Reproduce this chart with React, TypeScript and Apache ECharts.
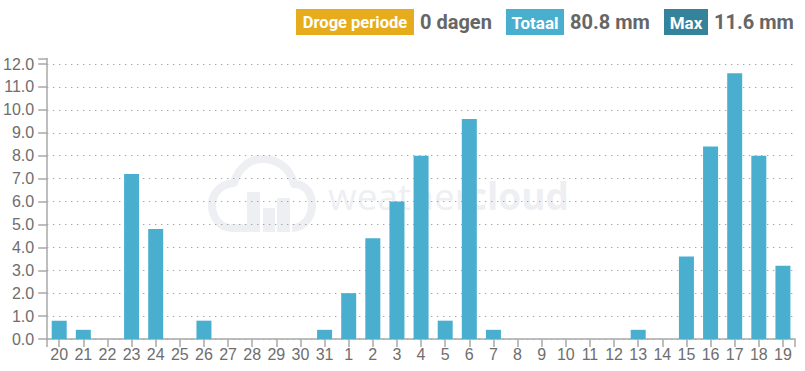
import React, { useEffect, useRef } from "react";
import * as echarts from "echarts";

const categories = ["20","21","22","23","24","25","26","27","28","29","30","31","1","2","3","4","5","6","7","8","9","10","11","12","13","14","15","16","17","18","19"];
const rain = [0.8,0.4,0,7.2,4.8,0,0.8,0,0,0,0,0.4,2.0,4.4,6.0,8.0,0.8,9.6,0.4,0,0,0,0,0,0.4,0,3.6,8.4,11.6,8.0,3.2];
const badges = [
  { label: "Droge periode", value: "0 dagen", x: 296, w: 118, size: 16.5, color: "#E6AC1E" },
  { label: "Totaal", value: "80.8 mm", x: 506, w: 58, size: 17, color: "#4AAFCF" },
  { label: "Max", value: "11.6 mm", x: 664, w: 44, size: 17, color: "#35839B" },
];
const cloudPath = "M247 228 L232 228 C218 228 212 215 212 205 C212 192 222 184 234 183 C238 168 250 159 262 159 C278 159 290 168 294 184 C306 184 312 194 312 205 C312 217 304 228 292 228";

export default function App() {
  const ref = useRef<HTMLDivElement>(null);
  useEffect(() => {
    document.body.style.margin = "0";
    echarts.graphic.registerShape("wcCloud", echarts.graphic.extendPath(cloudPath as any, {}) as any);
    const chart = echarts.init(ref.current!, undefined, { renderer: "svg" });
    const wm = "#EEEFF3";
    const axisColor = "#A8A8A8";
    const labelColor = "#6E6E6E";
    const badgeEls: any[] = [];
    badges.forEach((b) => {
      badgeEls.push({ type: "rect", silent: true, shape: { x: b.x, y: 9, width: b.w, height: 26 }, style: { fill: b.color } });
      badgeEls.push({ type: "text", silent: true, x: b.x + b.w / 2, y: 22.5, style: { text: b.label, fill: "#fff", font: `700 ${b.size}px Roboto`, align: "center", verticalAlign: "middle" } });
      badgeEls.push({ type: "text", silent: true, x: b.x + b.w + 6, y: 22, style: { text: b.value, fill: "#666", font: "700 20px Roboto", align: "left", verticalAlign: "middle" } });
    });
    const wmEls: any[] = [
      { type: "wcCloud", z: -1, silent: true, style: { stroke: wm, fill: "none", lineWidth: 8, lineJoin: "round" } },
      { type: "rect", z: -1, silent: true, shape: { x: 247, y: 192, width: 13, height: 40 }, style: { fill: wm } },
      { type: "rect", z: -1, silent: true, shape: { x: 263, y: 208, width: 12, height: 24 }, style: { fill: wm } },
      { type: "rect", z: -1, silent: true, shape: { x: 277, y: 198, width: 13, height: 34 }, style: { fill: wm } },
      { type: "text", z: -1, silent: true, x: 328, y: 195, style: { text: "weather", fill: wm, font: "400 37px 'Open Sans'", verticalAlign: "middle" } },
      { type: "text", z: -1, silent: true, x: 468, y: 195, style: { text: "cloud", fill: wm, font: "700 37px 'Open Sans'", verticalAlign: "middle" } },
    ];
    const endTicks = [47, 795].map((x) => ({ type: "line", silent: true, shape: { x1: x, y1: 339, x2: x, y2: 347 }, style: { stroke: axisColor, lineWidth: 1.5 } }));
    chart.setOption({
      animation: false,
      grid: { left: 47, right: 10, top: 58.5, bottom: 32 },
      xAxis: {
        type: "category", data: categories, boundaryGap: true,
        axisLine: { lineStyle: { color: axisColor, width: 1.5 } },
        axisTick: { show: true, alignWithLabel: true, lineStyle: { color: axisColor, width: 1.5 }, length: 8 },
        axisLabel: { color: labelColor, fontSize: 16, fontFamily: "Arial, Liberation Sans", interval: 0, margin: 7 },
        splitLine: { show: false },
      },
      yAxis: {
        type: "value", min: 0, max: 12.24, interval: 1,
        axisLine: { show: true, lineStyle: { color: axisColor, width: 1.5 } },
        axisTick: { show: true, lineStyle: { color: axisColor, width: 1.5 }, length: 9 },
        axisLabel: { color: labelColor, fontSize: 16, fontFamily: "Arial, Liberation Sans", margin: 13, formatter: (v: number) => (Number.isInteger(v) ? v.toFixed(1) : "") },
        splitLine: { show: true, showMaxLine: false, lineStyle: { color: "#999", type: [1.2, 4.8], width: 1.2 } },
      },
      series: [{ type: "bar", data: rain, barWidth: 15, itemStyle: { color: "#4AAFCF" }, z: 3 }],
      graphic: { elements: [...wmEls, ...endTicks, ...badgeEls] },
    });
    return () => chart.dispose();
  }, []);
  return <div ref={ref} style={{ width: 805, height: 371 }} />;
}
